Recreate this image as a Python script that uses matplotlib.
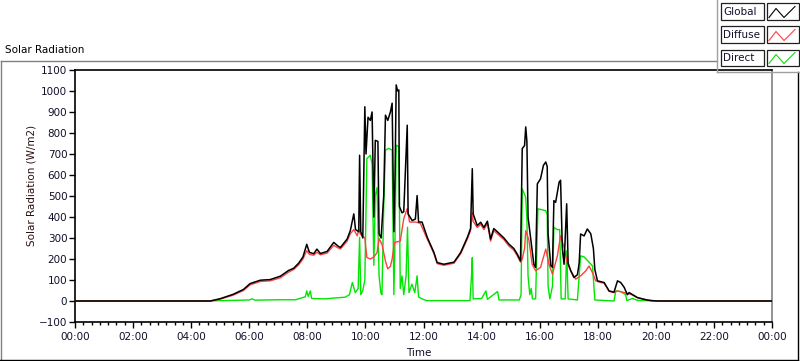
import matplotlib.pyplot as plt
from matplotlib import ticker
from matplotlib.patches import Rectangle
from matplotlib.lines import Line2D

W, H = 800, 361
RED = '#ff4040'
GREEN = '#00e600'

# time of day in hours, radiation in W/m2
global_t = [0, 4.66, 5.0, 5.45, 5.8, 6.03, 6.38, 6.72, 7.07, 7.35,
            7.53, 7.7, 7.85, 7.98, 8.07, 8.22, 8.33, 8.45, 8.68, 8.91,
            9.07, 9.14, 9.37, 9.48, 9.6, 9.66, 9.77, 9.8, 9.84, 9.91,
            9.98, 10.02, 10.09, 10.17, 10.23, 10.29, 10.34, 10.43, 10.47, 10.54,
            10.63, 10.69, 10.77, 10.86, 10.92, 10.98, 11.02, 11.06, 11.11, 11.15,
            11.17, 11.26, 11.32, 11.44, 11.47, 11.61, 11.72, 11.78, 11.83, 11.95,
            12.13, 12.36, 12.47, 12.70, 13.05, 13.28, 13.51, 13.62, 13.68, 13.71,
            13.85, 13.97, 14.08, 14.20, 14.31, 14.42, 14.54, 14.77, 14.94, 15.11,
            15.23, 15.34, 15.40, 15.48, 15.52, 15.56, 15.60, 15.69, 15.80, 15.86,
            15.92, 16.03, 16.13, 16.21, 16.26, 16.29, 16.38, 16.44, 16.49, 16.55,
            16.67, 16.72, 16.78, 16.84, 16.93, 16.98, 17.07, 17.18, 17.30, 17.36,
            17.41, 17.53, 17.64, 17.76, 17.85, 17.90, 17.99, 18.22, 18.39, 18.56,
            18.68, 18.79, 18.91, 19.02, 19.08, 19.20, 19.37, 19.66, 19.83, 20.07,
            24.0]
global_v = [0, 0, 11, 32, 55, 83, 99, 102, 118, 145,
            156, 180, 210, 270, 232, 225, 247, 226, 236, 279,
            260, 255, 295, 335, 415, 340, 330, 694, 330, 300,
            925, 700, 875, 860, 900, 400, 765, 760, 320, 300,
            500, 885, 860, 900, 942, 330, 600, 1029, 1000, 1005,
            450, 420, 425, 837, 415, 383, 390, 502, 376, 376,
            303, 231, 183, 175, 185, 231, 303, 345, 630, 415,
            359, 375, 350, 380, 295, 345, 330, 300, 271, 250,
            223, 191, 726, 740, 829, 760, 399, 300, 175, 160,
            558, 582, 646, 662, 640, 320, 170, 160, 478, 470,
            566, 575, 250, 175, 463, 180, 144, 112, 125, 180,
            319, 310, 343, 320, 250, 150, 96, 88, 48, 42,
            96, 88, 65, 30, 40, 30, 16, 6, 2, 0,
            0]

diffuse_t = [0, 4.66, 5.0, 5.45, 5.8, 6.03, 6.38, 6.72, 7.07, 7.35,
             7.53, 7.7, 7.85, 7.98, 8.07, 8.22, 8.33, 8.45, 8.68, 8.91,
             9.07, 9.14, 9.37, 9.48, 9.6, 9.72, 9.77, 9.82, 9.98, 10.05,
             10.17, 10.29, 10.40, 10.47, 10.57, 10.69, 10.77, 10.86, 10.92, 11.0,
             11.2, 11.32, 11.44, 11.52, 11.72, 11.89, 12.13, 12.36, 12.47, 12.70,
             13.05, 13.28, 13.51, 13.62, 13.68, 13.71, 13.85, 13.97, 14.08, 14.20,
             14.31, 14.42, 14.54, 14.77, 14.94, 15.11, 15.23, 15.34, 15.40, 15.48,
             15.52, 15.63, 15.74, 15.86, 16.03, 16.21, 16.32, 16.44, 16.61, 16.72,
             16.84, 16.95, 17.07, 17.24, 17.41, 17.59, 17.70, 17.82, 17.93, 18.10,
             18.22, 18.39, 18.56, 18.68, 18.91, 19.14, 19.37, 19.71, 20.07, 24.0]
diffuse_v = [0, 0, 9, 28, 50, 77, 93, 96, 110, 137,
             150, 172, 200, 240, 222, 218, 232, 220, 228, 265,
             252, 248, 285, 320, 340, 310, 344, 320, 300, 207,
             200, 210, 230, 297, 270, 190, 153, 165, 200, 279,
             285, 392, 440, 376, 376, 370, 295, 225, 178, 170,
             180, 225, 295, 335, 420, 380, 350, 365, 340, 370,
             285, 335, 320, 292, 262, 242, 215, 185, 200, 250,
             335, 290, 175, 144, 160, 247, 175, 128, 215, 311,
             255, 180, 144, 104, 120, 144, 167, 135, 96, 88,
             85, 46, 40, 48, 40, 32, 16, 4, 0, 0]

direct_t = [0, 4.66, 5.0, 5.5, 6.0, 6.1, 6.2, 7.0, 7.6, 7.93,
            7.98, 8.03, 8.1, 8.15, 8.6, 9.0, 9.3, 9.45, 9.55, 9.65,
            9.75, 9.8, 9.84, 9.91, 9.98, 10.05, 10.17, 10.23, 10.29, 10.34,
            10.40, 10.47, 10.53, 10.57, 10.63, 10.69, 10.8, 10.92, 10.98, 11.02,
            11.06, 11.15, 11.2, 11.26, 11.32, 11.4, 11.45, 11.5, 11.6, 11.7,
            11.78, 11.83, 11.95, 12.1, 13.6, 13.65, 13.68, 13.71, 14.0, 14.15,
            14.2, 14.55, 14.6, 15.3, 15.36, 15.40, 15.52, 15.56, 15.6, 15.66,
            15.71, 15.75, 15.86, 15.94, 16.21, 16.26, 16.29, 16.35, 16.44, 16.49,
            16.6, 16.69, 16.74, 16.88, 16.93, 16.98, 17.3, 17.41, 17.53, 17.70,
            17.82, 17.9, 18.56, 18.62, 18.79, 18.96, 19.0, 19.2, 19.37, 20.0,
            24.0]
direct_v = [0, 0, 2, 3, 5, 10, 4, 6, 6, 20,
            48, 22, 48, 12, 10, 15, 18, 30, 88, 40,
            60, 303, 30, 50, 100, 678, 694, 650, 170, 502,
            540, 120, 40, 30, 450, 718, 727, 718, 30, 303,
            742, 735, 60, 120, 30, 120, 351, 40, 80, 40,
            120, 20, 10, 2, 2, 112, 207, 10, 12, 48,
            8, 45, 5, 5, 30, 534, 494, 390, 120, 30,
            60, 10, 10, 439, 430, 410, 70, 10, 70, 351,
            340, 340, 10, 10, 239, 10, 5, 215, 210, 185,
            167, 5, 0, 48, 45, 30, 2, 12, 3, 0,
            0]

series_names = ['Global', 'Diffuse', 'Direct']
series_colors = ['black', RED, GREEN]

plt.rcParams['font.family'] = 'DejaVu Sans'
plt.rcParams['font.size'] = 7.5


def fx(x):
    return x / W


def fy(y):
    return 1 - y / H


fig = plt.figure(figsize=(W / 100, H / 100), dpi=100)
fig.patch.set_facecolor('white')

ax = fig.add_axes([fx(75), fy(322), (772 - 75) / W, (322 - 70) / H])
ax.plot(direct_t, direct_v, color=GREEN, lw=1.0, zorder=2)
ax.plot(diffuse_t, diffuse_v, color=RED, lw=1.0, zorder=3)
ax.plot(global_t, global_v, color='black', lw=1.1, zorder=4)

ax.set_xlim(0, 24)
ax.set_ylim(-100, 1100)
ax.set_yticks(range(-100, 1101, 100))
ax.xaxis.set_major_locator(ticker.MultipleLocator(2))
ax.xaxis.set_minor_locator(ticker.MultipleLocator(2 / 7))
ax.xaxis.set_major_formatter(
    ticker.FuncFormatter(lambda v, p: f'{int(round(v)) % 24:02d}:00'))
ax.tick_params(axis='both', which='major', direction='out', length=4,
               width=1, color='black', labelcolor='#10102a')
ax.tick_params(axis='x', which='minor', direction='out', length=2.5, width=1)
ax.tick_params(axis='y', pad=1.5)
ax.tick_params(axis='x', pad=3)

for side in ['left', 'top', 'bottom']:
    ax.spines[side].set_color('black')
    ax.spines[side].set_linewidth(1.2)
ax.spines['right'].set_color('#808080')
ax.spines['right'].set_linewidth(1.2)

ax.set_ylabel('Solar Radiation (W/m2)', color='#2a1010')
ax.yaxis.set_label_coords((37 - 75) / 697, (322 - 185) / 252)
ax.set_xlabel('Time', color='#10102a')
ax.xaxis.set_label_coords((419 - 75) / 697, (322 - 348) / 252)

fig.text(fx(5), fy(50), 'Solar Radiation', ha='left', va='center')

# outer frame
def fline(xs, ys, color, lw=1.0):
    fig.add_artist(Line2D([fx(x) for x in xs], [fy(y) for y in ys],
                          transform=fig.transFigure, color=color, lw=lw))

fline([0.5, 717], [61, 61], '#808080')
fline([0.5, 0.5], [61, 360], '#808080')
fline([0, 798], [359.5, 359.5], 'black')
fline([797.5, 797.5], [72, 360], 'black')

# legend panel
fline([717, 717], [0, 72], '#a0a0a0')
fline([717, 800], [72, 72], '#a0a0a0')
row_tops = [3.5, 26.5, 49.5]
for name, color, top in zip(series_names, series_colors, row_tops):
    for x0, x1 in [(721, 763.5), (767, 798.5)]:
        fig.add_artist(Rectangle((fx(x0), fy(top + 16.5)),
                                 (x1 - x0) / W, 16.5 / H,
                                 transform=fig.transFigure,
                                 facecolor='white', edgecolor='#202020',
                                 lw=0.9))
    fig.text(fx(723), fy(top + 8.5), name, ha='left', va='center',
             color='#10102a')
    zx = [769, 776, 784, 795]
    zy = [top + 14, top + 5, top + 14, top + 3]
    fline(zx, zy, color, lw=0.8)

fig.savefig('out.png', dpi=100, facecolor='white')
